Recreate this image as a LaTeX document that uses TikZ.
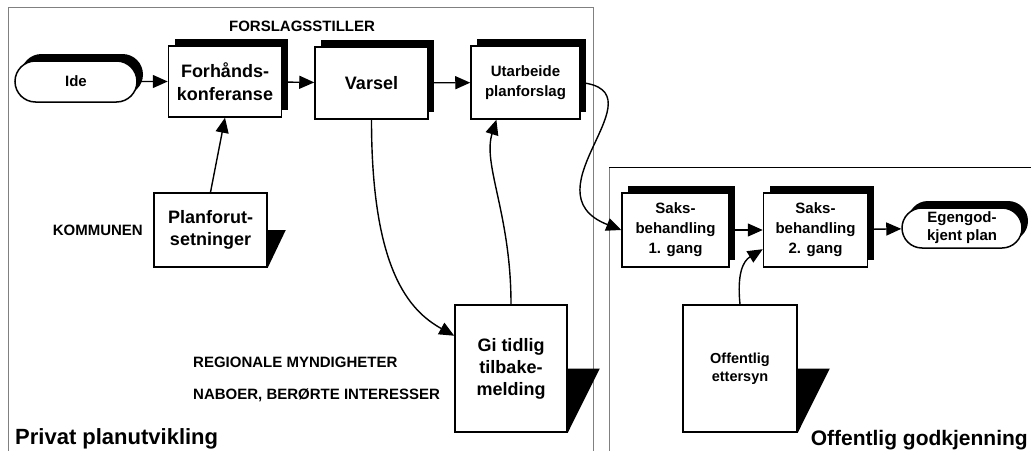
\documentclass[tikz,border=0pt]{standalone}
\usepackage{fontspec}
\setmainfont{Liberation Sans}
\usepackage{tikz}
\usetikzlibrary{positioning,arrows.meta,shapes.misc,shadows}
\definecolor{framegray}{HTML}{808080}
\newcommand{\docfold}[2]{\fill (#1.east) -- ++(#2,0) -- (#1.south east) -- cycle;}
\tikzset{
  blackshadow/.style={drop shadow={shadow xshift=6pt,shadow yshift=7pt,opacity=1,fill=black}},
  procbox/.style ={draw, fill=white, line width=1.5pt, align=center, inner sep=0pt,
                   blackshadow, font=\bfseries\fontsize{18}{23}\selectfont},
  smallproc/.style={procbox, font=\bfseries\fontsize{15}{20}\selectfont},
  termbox/.style ={rounded rectangle, draw, fill=white, line width=1.5pt, align=center,
                   inner sep=0pt, blackshadow, font=\bfseries\fontsize{15}{18}\selectfont},
  docbox/.style  ={draw, fill=white, line width=1.5pt, align=center, inner sep=0pt,
                   font=\bfseries\fontsize{18}{22}\selectfont},
  lbl/.style     ={inner sep=0pt, font=\bfseries\fontsize{15}{18}\selectfont},
  areatitle/.style={inner sep=0pt, font=\bfseries\fontsize{22}{26}\selectfont},
  flowarr/.style ={-{Triangle[length=15pt,width=13pt]}, line width=1.4pt},
  frameline/.style={framegray, line width=1pt},
}
\begin{document}
\begin{tikzpicture}[x=1pt,y=1pt]
\useasboundingbox (0,0) rectangle (1031,-450);

% areas
\draw[frameline] (8,-455) -- (8,-7) -- (593,-7) -- (593,-455);
\draw[frameline] (609,-455) -- (609,-167);
\draw[line width=1pt] (609,-167) -- (1035,-167);

% private part
\node[termbox, minimum width=122pt, minimum height=41pt] (ide) at (76,-81.5) {Ide};
\node[procbox, minimum width=113pt, minimum height=71pt, right=30pt of ide] (fk) {Forhånds-\\konferanse};
\node[procbox, minimum width=113pt, minimum height=72pt] (va) at (371.5,-83) {Varsel};
\node[smallproc, minimum width=109pt, minimum height=73pt] (ua) at (525.5,-82.5) {Utarbeide\\planforslag};
\node[docbox, minimum width=113pt, minimum height=74pt] (pf) at (210.5,-230) {Planforut-\\setninger};
\docfold{pf}{18}
\node[docbox, minimum width=112pt, minimum height=127pt] (gt) at (511,-368.5) {Gi tidlig\\tilbake-\\melding};
\docfold{gt}{32}

% public part
\node[smallproc, minimum width=107pt, minimum height=74pt] (s1) at (675.5,-230) {Saks-\\behandling\\1. gang};
\node[smallproc, minimum width=104pt, minimum height=74pt, right=33pt of s1] (s2) {Saks-\\behandling\\2. gang};
\node[termbox, minimum width=120pt, minimum height=40pt] (eg) at (962,-228) {Egengod-\\kjent plan};
\node[docbox, font=\bfseries\fontsize{14.5}{18}\selectfont, minimum width=114pt, minimum height=127pt] (oe) at (740,-368.5) {Offentlig\\ettersyn};
\docfold{oe}{32}

% labels
\node[lbl, anchor=base] (fs) at (302,-31) {FORSLAGSSTILLER};
\node[lbl, anchor=base east] (kom) at (143,-235) {KOMMUNEN};
\node[lbl, anchor=base west] (reg) at (193,-367) {REGIONALE MYNDIGHETER};
\node[lbl, anchor=base west] (nab) at (193,-399) {NABOER, BERØRTE INTERESSER};
\node[areatitle, anchor=base west] (priv) at (15,-444) {Privat planutvikling};
\node[areatitle, font=\bfseries\fontsize{21}{25}\selectfont, anchor=base east] (off) at (1028,-445) {Offentlig godkjenning};

% flow
\draw[flowarr] (ide) -- (fk);
\draw[flowarr] (fk) -- (va);
\draw[flowarr] (va) -- (ua);
\draw[flowarr] (pf.north) -- (fk.south);
\draw[flowarr] (va.south) .. controls +(0,-150) and +(-45,25) .. (gt.150);
\draw[flowarr] (gt.north) .. controls +(0,90) and +(-14,-45) .. (ua.232);
\draw[flowarr] (ua.east) .. controls +(83,-9) and +(-97,38) .. (s1.west);
\draw[flowarr] (s1) -- (s2);
\draw[flowarr] (s2) -- (eg);
\draw[flowarr] (oe.north) .. controls +(-3,30) and +(-20,-12) .. (s2.200);
\end{tikzpicture}
\end{document}
